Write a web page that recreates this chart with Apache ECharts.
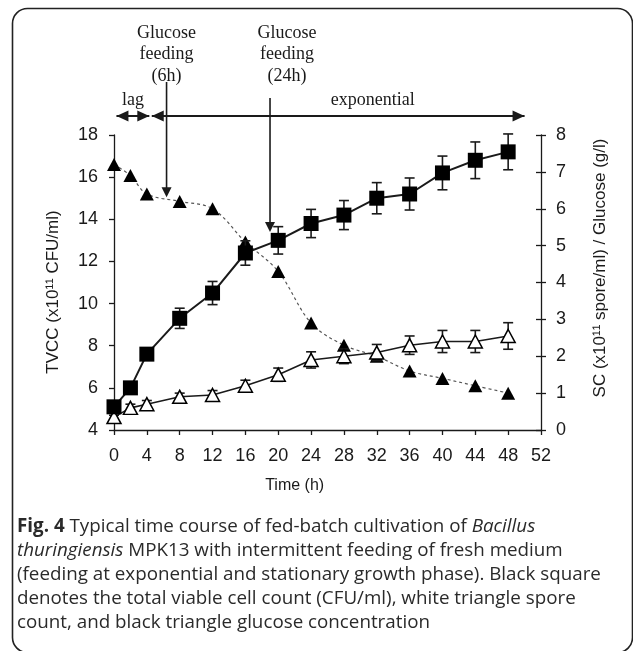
<!DOCTYPE html>
<html>
<head>
<meta charset="utf-8">
<script src="https://cdn.jsdelivr.net/npm/echarts@6/dist/echarts.min.js"></script>
<style>
  html, body { margin: 0; padding: 0; background: #fff; }
  #main { width: 633px; height: 651px; }
</style>
</head>
<body>
<div id="main"></div>
<script>
// sampling times (h)
var time = [0, 2, 4, 8, 12, 16, 20, 24, 28, 32, 36, 40, 44, 48];
// total viable cell count, x10^11 CFU/ml (left axis)
var tvcc = [5.1, 6.0, 7.6, 9.3, 10.5, 12.4, 13.0, 13.8, 14.2, 15.0, 15.2, 16.2, 16.8, 17.2];
var tvccErr = [0.1, 0.1, 0.2, 0.48, 0.55, 0.58, 0.65, 0.67, 0.69, 0.74, 0.76, 0.8, 0.87, 0.85];
// spore count, x10^11 spore/ml (right axis)
var sc = [0.35, 0.6, 0.7, 0.9, 0.95, 1.2, 1.5, 1.9, 2.0, 2.1, 2.3, 2.4, 2.4, 2.55];
var scErr = [0.05, 0.1, 0.1, 0.1, 0.12, 0.15, 0.18, 0.22, 0.2, 0.22, 0.25, 0.3, 0.3, 0.36];
// glucose, g/l (right axis)
var glucose = [7.2, 6.9, 6.4, 6.2, 6.0, 5.1, 4.3, 2.9, 2.3, 2.0, 1.6, 1.4, 1.2, 1.0];

// feeding arrows: time and glucose level at the arrow tip
var feedTimes = [6.4, 19];
var feedTips = [6.31, 5.37];
var feedLabels = [['Glucose', 'feeding', '(6h)'], ['Glucose', 'feeding', '(24h)']];

var captionLines = [
  [{t: 'Fig. 4', s: 'b'}, {t: ' Typical time course of fed-batch cultivation of ', s: 'n'}, {t: 'Bacillus', s: 'i'}],
  [{t: 'thuringiensis', s: 'i'}, {t: ' MPK13 with intermittent feeding of fresh medium', s: 'n'}],
  [{t: '(feeding at exponential and stationary growth phase). Black square', s: 'n'}],
  [{t: 'denotes the total viable cell count (CFU/ml), white triangle spore', s: 'n'}],
  [{t: 'count, and black triangle glucose concentration', s: 'n'}]
];

var SANS = "'Liberation Sans', Arial, sans-serif";
var SERIF = "'Liberation Serif', 'Times New Roman', serif";
var CAP = "'Open Sans', 'Noto Sans', sans-serif";
var INK = '#1a1a1a';

function pairs(ys) {
  return time.map(function (t, i) { return [t, ys[i]]; });
}
function errRows(ys, es) {
  return time.map(function (t, i) { return [t, ys[i] - es[i], ys[i] + es[i]]; });
}
function errBar(params, api) {
  var x = api.value(0);
  var lo = api.coord([x, api.value(1)]);
  var hi = api.coord([x, api.value(2)]);
  var w = 5;
  var st = {stroke: INK, lineWidth: 1.6};
  return {
    type: 'group',
    children: [
      {type: 'line', shape: {x1: lo[0], y1: lo[1], x2: hi[0], y2: hi[1]}, style: st},
      {type: 'line', shape: {x1: lo[0] - w, y1: lo[1], x2: lo[0] + w, y2: lo[1]}, style: st},
      {type: 'line', shape: {x1: hi[0] - w, y1: hi[1], x2: hi[0] + w, y2: hi[1]}, style: st}
    ]
  };
}

var chart = echarts.init(document.getElementById('main'), null, {renderer: 'canvas'});

var axisCommon = {
  axisLine: {show: true, lineStyle: {color: INK, width: 1.3}},
  axisTick: {show: true, length: 5, lineStyle: {color: INK, width: 1.3}},
  splitLine: {show: false}
};

var option = {
  animation: false,
  backgroundColor: '#fff',
  grid: {left: 114, top: 135, width: 427, height: 295},
  xAxis: Object.assign({}, axisCommon, {
    type: 'value', min: 0, max: 52, interval: 4,
    axisLabel: {color: INK, fontFamily: SANS, fontSize: 18, margin: 17}
  }),
  yAxis: [
    Object.assign({}, axisCommon, {
      type: 'value', min: 4, max: 18, interval: 2, position: 'left',
      axisLabel: {color: INK, fontFamily: SANS, fontSize: 18, margin: 16}
    }),
    Object.assign({}, axisCommon, {
      type: 'value', min: 0, max: 8, interval: 1, position: 'right',
      axisLabel: {color: INK, fontFamily: SANS, fontSize: 18, margin: 15}
    }),
    {
      type: 'value', min: 0, max: 8, interval: 1, position: 'right',
      axisLine: {show: false}, axisLabel: {show: false}, splitLine: {show: false},
      axisTick: {show: true, inside: true, length: 5, lineStyle: {color: INK, width: 1.3}}
    }
  ],
  series: [
    {
      name: 'Glucose', type: 'line', yAxisIndex: 1, data: pairs(glucose), smooth: 0.35,
      symbol: 'triangle', symbolSize: [14, 13],
      itemStyle: {color: '#000'},
      lineStyle: {color: '#555', width: 1.2, type: [3, 3]}, z: 2
    },
    {
      name: 'SC err', type: 'custom', yAxisIndex: 1, data: errRows(sc, scErr),
      renderItem: errBar, encode: {x: 0, y: [1, 2]}, z: 3
    },
    {
      name: 'SC', type: 'line', yAxisIndex: 1, data: pairs(sc),
      symbol: 'triangle', symbolSize: [14, 13],
      itemStyle: {color: '#fff', borderColor: '#000', borderWidth: 1.5},
      lineStyle: {color: INK, width: 1.6}, z: 4
    },
    {
      name: 'TVCC err', type: 'custom', yAxisIndex: 0, data: errRows(tvcc, tvccErr),
      renderItem: errBar, encode: {x: 0, y: [1, 2]}, z: 5
    },
    {
      name: 'TVCC', type: 'line', yAxisIndex: 0, data: pairs(tvcc),
      symbol: 'rect', symbolSize: 15,
      itemStyle: {color: '#000'},
      lineStyle: {color: INK, width: 2}, z: 6
    }
  ]
};

chart.setOption(option);

// annotations placed through the axes
function px(t) { return chart.convertToPixel({xAxisIndex: 0}, t); }
function py(v) { return chart.convertToPixel({yAxisIndex: 1}, v); }

var g = [];
// frame
g.push({type: 'rect', shape: {x: 12.5, y: 8.5, width: 620, height: 644, r: 15},
  style: {fill: null, stroke: '#222', lineWidth: 1.6}, z: 0});

// axis titles
g.push({type: 'text', x: 53, y: 292, rotation: Math.PI / 2,
  style: {text: 'TVCC (x10\u00b9\u00b9 CFU/ml)', fill: INK, font: '17px ' + SANS, align: 'center', verticalAlign: 'middle'}});
g.push({type: 'text', x: 600, y: 268, rotation: Math.PI / 2,
  style: {text: 'SC (x10\u00b9\u00b9 spore/ml) / Glucose (g/l)', fill: INK, font: '17px ' + SANS, align: 'center', verticalAlign: 'middle'}});
g.push({type: 'text', x: px(22), y: 486,
  style: {text: 'Time (h)', fill: INK, font: '16px ' + SANS, align: 'center', verticalAlign: 'middle'}});

function headDown(x, y) {
  return {type: 'polygon', shape: {points: [[x - 5, y - 10], [x + 5, y - 10], [x, y]]}, style: {fill: INK}};
}
function headH(x, y, dir) {
  return {type: 'polygon', shape: {points: [[x, y], [x - dir * 12, y - 5.5], [x - dir * 12, y + 5.5]]}, style: {fill: INK}};
}

var feedTop = [82, 98];
var feedTextX = [0, 17];
feedTimes.forEach(function (t, i) {
  var x = px(t), yTip = py(feedTips[i]);
  g.push({type: 'line', shape: {x1: x, y1: feedTop[i], x2: x, y2: yTip - 8}, style: {stroke: INK, lineWidth: 1.6}});
  g.push(headDown(x, yTip));
  feedLabels[i].forEach(function (s, k) {
    g.push({type: 'text', x: x + feedTextX[i], y: 33 + k * 21.5,
      style: {text: s, fill: INK, font: '18px ' + SERIF, align: 'center', verticalAlign: 'middle'}});
  });
});

// growth phase arrows
var arrowY = 116;
var lagA = px(0.3), lagB = px(4.3), expA = px(4.6), expB = px(50);
g.push({type: 'line', shape: {x1: lagA, y1: arrowY, x2: lagB, y2: arrowY}, style: {stroke: INK, lineWidth: 1.8}});
g.push(headH(lagA, arrowY, -1));
g.push(headH(lagB, arrowY, 1));
g.push({type: 'line', shape: {x1: expA, y1: arrowY, x2: expB, y2: arrowY}, style: {stroke: INK, lineWidth: 1.8}});
g.push(headH(expA, arrowY, -1));
g.push(headH(expB, arrowY, 1));
g.push({type: 'text', x: (lagA + lagB) / 2, y: 100,
  style: {text: 'lag', fill: INK, font: '18px ' + SERIF, align: 'center', verticalAlign: 'middle'}});
g.push({type: 'text', x: px(31.5), y: 100,
  style: {text: 'exponential', fill: INK, font: '18px ' + SERIF, align: 'center', verticalAlign: 'middle'}});

// caption
var capSize = 18.8;
var capRich = {
  b: {fontFamily: CAP, fontSize: capSize, fontWeight: 'bold', fill: '#2a2a2a'},
  i: {fontFamily: CAP, fontSize: capSize, fontStyle: 'italic', fill: '#2a2a2a'},
  n: {fontFamily: CAP, fontSize: capSize, fill: '#2a2a2a'}
};
captionLines.forEach(function (parts, k) {
  var txt = parts.map(function (p) { return '{' + p.s + '|' + p.t + '}'; }).join('');
  g.push({type: 'text', x: 17, y: 527 + k * 23.8,
    style: {text: txt, rich: capRich, verticalAlign: 'middle', align: 'left'}});
});

chart.setOption({graphic: g});
</script>
</body>
</html>
